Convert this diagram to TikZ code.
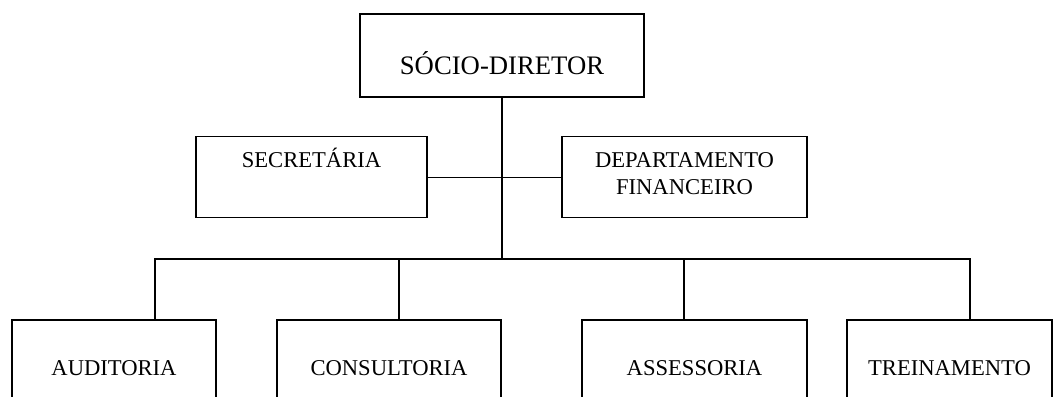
\documentclass[tikz,border=0pt]{standalone}
\usepackage{fontspec}
\setmainfont{Liberation Serif}
\begin{document}
\begin{tikzpicture}[x=1pt,y=-1pt,line width=1.3pt,
    box/.style={draw,rectangle,inner sep=0pt,align=center,font=\fontsize{22.6}{27}\selectfont},
    midbox/.style={box,minimum height=81,text height=15,text depth=35.4},
    lowbox/.style={box,minimum height=96}]
  \clip (0,0) rectangle (1059,396);
  \node[box,minimum width=284,minimum height=83,text height=38,text depth=0,
        font=\fontsize{26.7}{30}\selectfont] (dir) at (502,55.5) {SÓCIO-DIRETOR};
  \node[midbox,minimum width=231] (sec) at (311.5,177.2) {SECRETÁRIA};
  \node[midbox,minimum width=245,text height=48.6,text depth=15,
        right of=sec,node distance=373pt] (fin) {DEPARTAMENTO\\FINANCEIRO};
  \node[lowbox,minimum width=204] (aud) at (114,368) {AUDITORIA};
  \node[lowbox,minimum width=224,right of=aud,node distance=275pt] (con) {CONSULTORIA};
  \node[lowbox,minimum width=225,right of=con,node distance=305.5pt] (ass) {ASSESSORIA};
  \node[lowbox,minimum width=205,right of=ass,node distance=255pt] (tre) {TREINAMENTO};
  \coordinate (bus) at (502,259);
  \draw (dir) -- (bus);
  \draw (sec) -- (fin);
  \draw ([xshift=41pt]aud.north) |- (bus);
  \draw ([xshift=10pt]con.north) |- (bus);
  \draw ([xshift=-10.5pt]ass.north) |- (bus);
  \draw ([xshift=20.5pt]tre.north) |- (bus);
\end{tikzpicture}
\end{document}
